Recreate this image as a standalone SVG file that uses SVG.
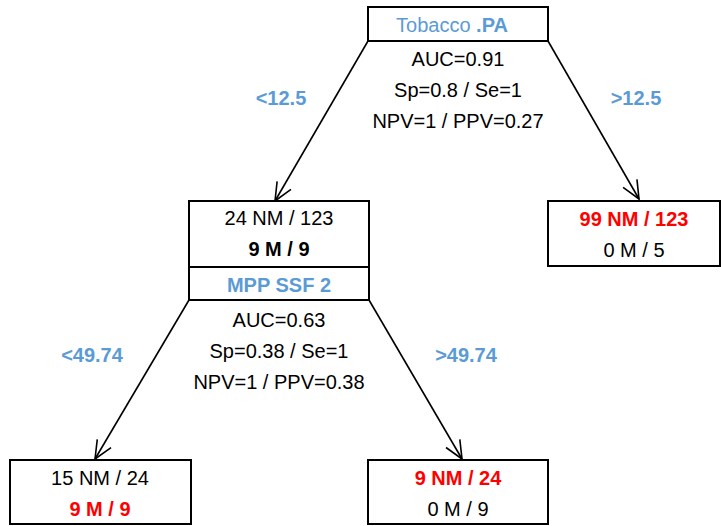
<svg xmlns="http://www.w3.org/2000/svg" width="721" height="526" viewBox="0 0 721 526">
<defs>
<style>
text{font-family:"Liberation Sans",Arial,sans-serif;font-size:20px;fill:#000;text-anchor:middle}
.b{font-weight:bold}
.blue{fill:#5B9BD5}
.red{fill:#FF0000}
.box{fill:#fff;stroke:#000;stroke-width:2}
.edge{stroke:#000;stroke-width:1.6;fill:none}
.lbl{font-weight:bold;fill:#5B9BD5}
</style>
<marker id="arr" viewBox="0 0 20 20" refX="19" refY="10" markerWidth="20" markerHeight="20" markerUnits="userSpaceOnUse" orient="auto">
<path d="M1,2 L19,10 L1,18" fill="none" stroke="#000" stroke-width="1.6"/>
</marker>
</defs>
<rect width="721" height="526" fill="#fff"/>
<g id="connectors">
<line class="edge" x1="368" y1="41" x2="275" y2="201" marker-end="url(#arr)"/>
<line class="edge" x1="548" y1="41" x2="639" y2="199" marker-end="url(#arr)"/>
<line class="edge" x1="189" y1="300" x2="95" y2="459" marker-end="url(#arr)"/>
<line class="edge" x1="369" y1="300" x2="462" y2="459" marker-end="url(#arr)"/>
<text class="lbl" x="281" y="105">&lt;12.5</text>
<text class="lbl" x="636" y="105">&gt;12.5</text>
<text class="lbl" x="92" y="362">&lt;49.74</text>
<text class="lbl" x="466" y="362">&gt;49.74</text>
</g>
<g id="root">
<rect class="box" x="368" y="7" width="180" height="34"/>
<text x="452" y="32"><tspan class="blue">Tobacco</tspan><tspan class="blue b"> .PA</tspan></text>
<text x="458" y="66">AUC=0.91</text>
<text x="458" y="97">Sp=0.8 / Se=1</text>
<text x="458" y="128">NPV=1 / PPV=0.27</text>
</g>
<g id="node-mid">
<rect class="box" x="189" y="201" width="180" height="99"/>
<line x1="189" y1="267" x2="369" y2="267" stroke="#000" stroke-width="2"/>
<text x="279" y="225">24 NM / 123</text>
<text class="b" x="279" y="256">9 M / 9</text>
<text class="b blue" x="279" y="292">MPP SSF 2</text>
<text x="279" y="327">AUC=0.63</text>
<text x="279" y="358">Sp=0.38 / Se=1</text>
<text x="279" y="389">NPV=1 / PPV=0.38</text>
</g>
<g id="node-right">
<rect class="box" x="548" y="201" width="172" height="65"/>
<text class="b red" x="634" y="226">99 NM / 123</text>
<text x="634" y="257">0 M / 5</text>
</g>
<g id="leaf-left">
<rect class="box" x="10" y="460" width="181" height="64"/>
<text x="100" y="485">15 NM / 24</text>
<text class="b red" x="100" y="516">9 M / 9</text>
</g>
<g id="leaf-right">
<rect class="box" x="368" y="460" width="180" height="64"/>
<text class="b red" x="458" y="485">9 NM / 24</text>
<text x="458" y="516">0 M / 9</text>
</g>
</svg>
